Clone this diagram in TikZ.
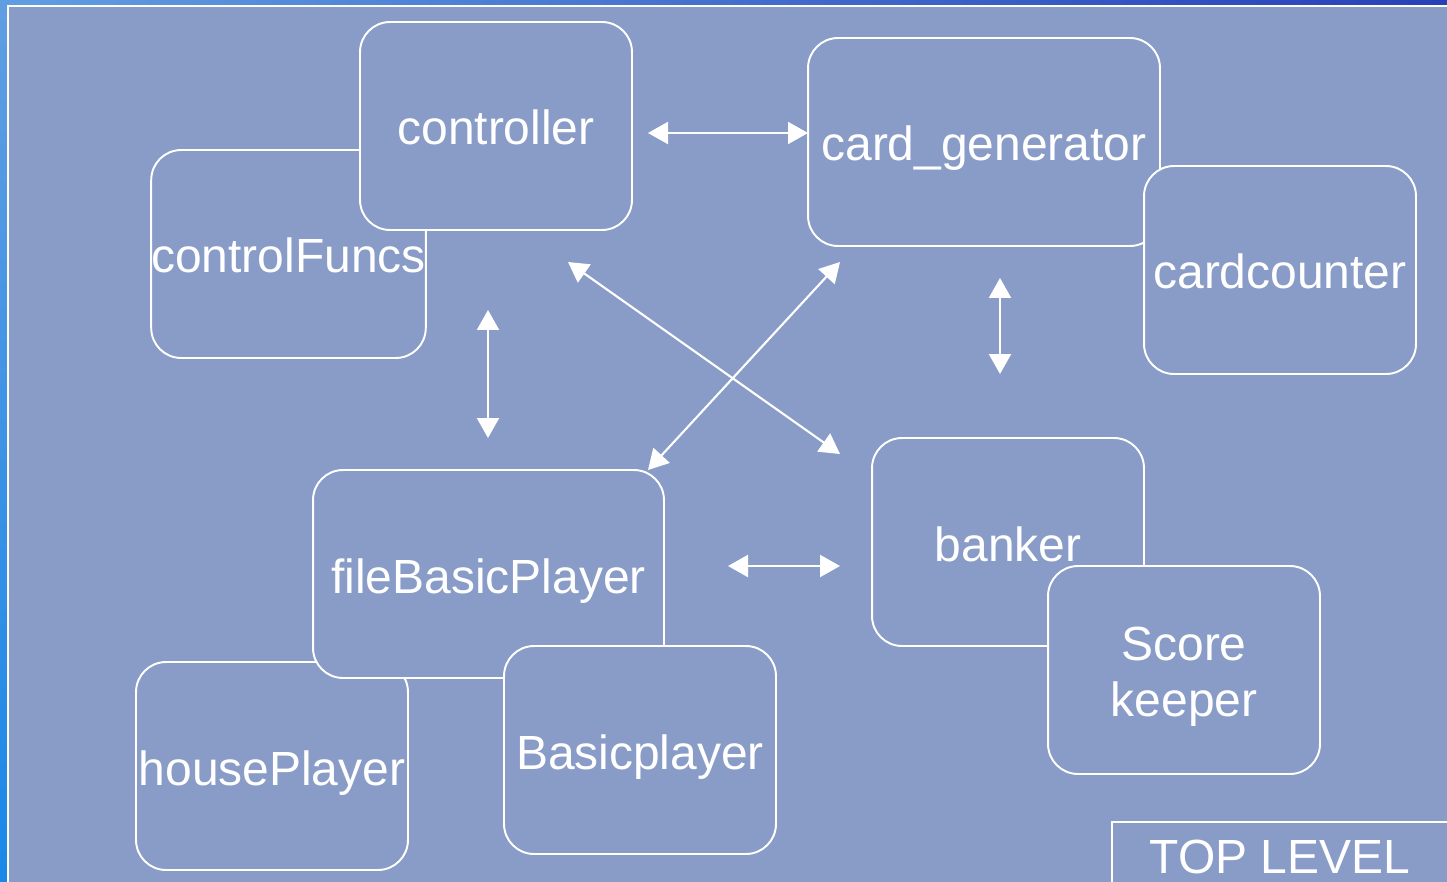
\documentclass[tikz,border=0pt]{standalone}
\usepackage{fontspec}
\setmainfont{Liberation Sans}
\usetikzlibrary{arrows.meta}
\definecolor{panelfill}{RGB}{137,156,200}
\definecolor{edgelight}{RGB}{96,158,226}
\definecolor{edgedark}{RGB}{40,64,184}
\definecolor{edgebright}{RGB}{26,136,232}
\begin{document}
\begin{tikzpicture}[x=0.02cm,y=-0.02cm,
modbox/.style={draw=white,fill=panelfill,rectangle,rounded corners=0.6cm,minimum width=5.44cm,minimum height=4.16cm,inner sep=0pt,line width=1.1pt,text=white,font=\fontsize{27.3}{32}\selectfont,align=center,text height=1.0cm,text depth=0.24cm},
link/.style={{Triangle[length=0.4cm,width=0.44cm]}-{Triangle[length=0.4cm,width=0.44cm]},draw=white,fill=white,line width=1.2pt}]
\useasboundingbox (0,0) rectangle (1447,882);
\clip (0,0) rectangle (1447,882);
% background
\shade[left color=edgelight,right color=edgedark] (0,0) rectangle (1447,882);
\shade[top color=edgelight,bottom color=edgebright] (0,0) rectangle (10,882);
\draw[white,fill=panelfill,line width=1.1pt] (8,6) rectangle (1470,900);
% modules
\draw (288.5,254) node[modbox] (funcs) {controlFuncs};
\draw (496,126) node[modbox] (ctrl) {controller};
\draw (984,142) node[modbox,minimum width=7.04cm] (gen) {card\_generator};
\draw (1280,270) node[modbox] (counter) {cardcounter};
\draw (272,766) node[modbox] (house) {housePlayer};
\draw (488.5,574) node[modbox,minimum width=7.02cm] (file) {fileBasicPlayer};
\draw (640,750) node[modbox] (basic) {Basicplayer};
\draw (1008,542) node[modbox] (bank) {banker};
\draw (1184,670) node[modbox,text height=,text depth=] (score) {\raisebox{-0.14cm}[\height][\depth]{\begin{tabular}{@{}c@{}}Score\\keeper\end{tabular}}};
% label
\draw[white,line width=1.1pt] (1112,822) rectangle (1470,900);
\node[text=white,font=\fontsize{27.3}{32}\selectfont,text height=1.0cm,text depth=0.24cm,inner sep=0pt] (level) at (1280,854) {TOP LEVEL};
% links
\coordinate (c1) at (648,133); \coordinate (g1) at (808,133);
\coordinate (c2) at (488,310); \coordinate (f2) at (488,438);
\coordinate (g3) at (1000,278); \coordinate (b3) at (1000,374);
\coordinate (c4) at (568,262); \coordinate (b4) at (840,454);
\coordinate (g5) at (840,262); \coordinate (f5) at (648,470);
\coordinate (f6) at (728,566); \coordinate (b6) at (840,566);
\draw[link] (c1) -- (g1);
\draw[link] (c2) -- (f2);
\draw[link] (g3) -- (b3);
\draw[link] (c4) -- (b4);
\draw[link] (g5) -- (f5);
\draw[link] (f6) -- (b6);
\end{tikzpicture}
\end{document}
